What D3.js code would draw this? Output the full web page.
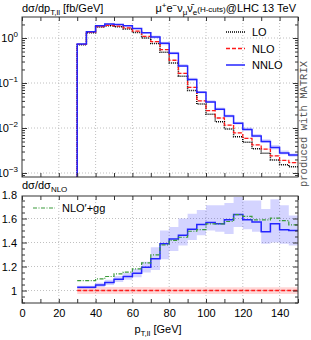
<!DOCTYPE html>
<html>
<head>
<meta charset="utf-8">
<script src="https://d3js.org/d3.v7.min.js"></script>
<style>
  body { margin: 0; background: #fff; }
  text { font-family: "Liberation Sans", Arial, sans-serif; fill: #000; }
</style>
</head>
<body>
<div id="chart"></div>
<script>
// bin lower edges (GeV), width 5
var binLow = [30,35,40,45,50,55,60,65,70,75,80,85,90,95,100,105,110,115,120,125,130,135,140,145];
var binWidth = 5;

// dsigma/dpT [fb/GeV]
var lo   = [0.71,1.31,1.75,1.87,1.77,1.59,1.32,1.0,0.75,0.48,0.28,0.142,0.068,0.034,0.0203,0.0138,0.0095,0.0064,0.0048,0.00345,0.00275,0.00195,0.00152,0.00137];
var nlo  = [0.72,1.34,1.80,1.92,1.83,1.68,1.42,1.09,0.83,0.55,0.32,0.164,0.080,0.040,0.0243,0.0167,0.0116,0.0078,0.0059,0.0042,0.0034,0.0024,0.0019,0.0017];
var nnlo = [0.74,1.38,1.88,2.05,2.0,1.88,1.62,1.30,1.05,0.76,0.46,0.24,0.12,0.062,0.038,0.026,0.0184,0.0127,0.0093,0.0066,0.0050,0.0037,0.0028,0.0025];

// ratios to NLO
var ratioNNLO = [1.028,1.028,1.047,1.067,1.094,1.117,1.144,1.194,1.264,1.389,1.43,1.46,1.51,1.55,1.567,1.556,1.59,1.633,1.59,1.57,1.49,1.556,1.506,1.50];
var ratioGG   = [1.083,1.083,1.097,1.117,1.139,1.153,1.18,1.23,1.297,1.38,1.417,1.444,1.494,1.508,1.556,1.556,1.575,1.633,1.617,1.589,1.589,1.603,1.583,1.547];
var nnloBandLo = [1.015,1.015,1.03,1.045,1.07,1.09,1.11,1.15,1.17,1.26,1.33,1.375,1.42,1.46,1.5,1.49,1.47,1.53,1.51,1.49,1.39,1.40,1.39,1.375];
var nnloBandHi = [1.04,1.04,1.065,1.09,1.12,1.145,1.18,1.24,1.36,1.5,1.53,1.6,1.64,1.67,1.71,1.71,1.73,1.78,1.75,1.75,1.68,1.76,1.71,1.625];
var nloBandLo = [0.97,0.97,0.97,0.97,0.97,0.97,0.97,0.97,0.972,0.972,0.972,0.972,0.972,0.972,0.972,0.972,0.972,0.972,0.972,0.972,0.972,0.972,0.972,0.972];
var nloBandHi = [1.03,1.03,1.03,1.03,1.03,1.03,1.03,1.03,1.028,1.028,1.028,1.028,1.028,1.028,1.028,1.028,1.028,1.028,1.028,1.028,1.028,1.028,1.028,1.028];

var xTickLabels = [0,20,40,60,80,100,120,140];
var ratioTickLabels = [1,1.2,1.4,1.6,1.8];
var decades = [0,-1,-2,-3];

var width = 311, height = 340;
var L = 22, R = 298;
var topT = 17, topB = 177, botT = 196, botB = 303;

var svg = d3.select("#chart").append("svg")
    .attr("width", width)
    .attr("height", height);

var x = d3.scaleLinear().domain([0,150]).range([L,R]);
var yTop = d3.scaleLog().domain([Math.pow(10,-3.0889), Math.pow(10,0.4667)]).range([topB,topT]);
var yBot = d3.scaleLinear().domain([0.896,1.7875]).range([botB,botT]);

var blue = "#2424ff", red = "#ff1a1a", green = "#3a9a3a";

// clip paths
var defs = svg.append("defs");
defs.append("clipPath").attr("id","clipTop").append("rect")
    .attr("x",L).attr("y",topT).attr("width",R-L).attr("height",topB-topT);
defs.append("clipPath").attr("id","clipBot").append("rect")
    .attr("x",L).attr("y",botT).attr("width",R-L).attr("height",botB-botT);

// grid
function grid(g, y0, y1, yVals, yScale) {
  xTickLabels.slice(1).forEach(function(v){
    g.append("line").attr("x1",x(v)).attr("x2",x(v)).attr("y1",y0).attr("y2",y1)
      .attr("stroke","#b0b0b0").attr("stroke-width",0.8).attr("stroke-dasharray","1,2");
  });
  yVals.forEach(function(v){
    g.append("line").attr("x1",L).attr("x2",R).attr("y1",yScale(v)).attr("y2",yScale(v))
      .attr("stroke","#b0b0b0").attr("stroke-width",0.8).attr("stroke-dasharray","1,2");
  });
}
grid(svg.append("g"), topT, topB, decades.map(function(d){return Math.pow(10,d);}), yTop);
grid(svg.append("g"), botT, botB, [1,1.2,1.4,1.6], yBot);

// step helpers
function stepPoints(vals, startFloor) {
  var pts = [];
  if (startFloor !== undefined) pts.push([binLow[0], startFloor]);
  vals.forEach(function(v,i){ pts.push([binLow[i], v]); });
  pts.push([binLow[binLow.length-1]+binWidth, vals[vals.length-1]]);
  return pts;
}
function bandPoints(lowVals, highVals) {
  var pts = lowVals.map(function(v,i){ return [binLow[i], v, highVals[i]]; });
  pts.push([binLow[binLow.length-1]+binWidth, lowVals[lowVals.length-1], highVals[highVals.length-1]]);
  return pts;
}

// ---------- top panel ----------
var gTop = svg.append("g").attr("clip-path","url(#clipTop)");
var lineTop = d3.line().curve(d3.curveStepAfter)
    .x(function(d){return x(d[0]);}).y(function(d){return yTop(d[1]);});
var areaTop = d3.area().curve(d3.curveStepAfter)
    .x(function(d){return x(d[0]);})
    .y0(function(d){return yTop(d[1]);}).y1(function(d){return yTop(d[2]);});

var nnloTopLo = nnlo.map(function(v,i){return v*nnloBandLo[i]/ratioNNLO[i];});
var nnloTopHi = nnlo.map(function(v,i){return v*nnloBandHi[i]/ratioNNLO[i];});
var nloTopLo = nlo.map(function(v,i){return v*nloBandLo[i];});
var nloTopHi = nlo.map(function(v,i){return v*nloBandHi[i];});

gTop.append("path").datum(bandPoints(nnloTopLo,nnloTopHi)).attr("d",areaTop)
    .attr("fill","rgba(40,40,255,0.2)");
gTop.append("path").datum(bandPoints(nloTopLo,nloTopHi)).attr("d",areaTop)
    .attr("fill","rgba(255,30,30,0.18)");
var floor = yTop.domain()[0];
gTop.append("path").datum(stepPoints(lo,floor)).attr("d",lineTop)
    .attr("fill","none").attr("stroke","#000").attr("stroke-width",1.5).attr("stroke-dasharray","1,1");
gTop.append("path").datum(stepPoints(nlo,floor)).attr("d",lineTop)
    .attr("fill","none").attr("stroke",red).attr("stroke-width",1.3).attr("stroke-dasharray","4,2");
gTop.append("path").datum(stepPoints(nnlo,floor)).attr("d",lineTop)
    .attr("fill","none").attr("stroke",blue).attr("stroke-width",1.5);

// ---------- bottom panel ----------
var gBot = svg.append("g").attr("clip-path","url(#clipBot)");
var lineBot = d3.line().curve(d3.curveStepAfter)
    .x(function(d){return x(d[0]);}).y(function(d){return yBot(d[1]);});
var areaBot = d3.area().curve(d3.curveStepAfter)
    .x(function(d){return x(d[0]);})
    .y0(function(d){return yBot(d[1]);}).y1(function(d){return yBot(d[2]);});

gBot.append("path").datum(bandPoints(nloBandLo,nloBandHi)).attr("d",areaBot)
    .attr("fill","rgba(255,30,30,0.18)");
gBot.append("path").datum(bandPoints(nnloBandLo,nnloBandHi)).attr("d",areaBot)
    .attr("fill","rgba(40,40,255,0.2)");
gBot.append("path").datum(stepPoints(nlo.map(function(){return 1;}))).attr("d",lineBot)
    .attr("fill","none").attr("stroke",red).attr("stroke-width",1.3).attr("stroke-dasharray","4,2");
gBot.append("path").datum(stepPoints(ratioNNLO)).attr("d",lineBot)
    .attr("fill","none").attr("stroke",blue).attr("stroke-width",1.5);
gBot.append("path").datum(stepPoints(ratioGG)).attr("d",lineBot)
    .attr("fill","none").attr("stroke",green).attr("stroke-width",1.2).attr("stroke-dasharray","4,1.5,1,1.5");

// ---------- frames and ticks ----------
function frame(y0, y1) {
  svg.append("rect").attr("x",L).attr("y",y0).attr("width",R-L).attr("height",y1-y0)
    .attr("fill","none").attr("stroke","#333").attr("stroke-width",1);
}
frame(topT, topB);
frame(botT, botB);

function tickAxis(axis, tx, ty) {
  var g = svg.append("g").attr("transform","translate("+tx+","+ty+")").call(axis);
  g.select(".domain").remove();
  g.selectAll("line").attr("stroke","#333");
  return g;
}
var xMinor = d3.range(0,151,10);
[topT, botT].forEach(function(t){
  tickAxis(d3.axisTop(x).tickValues(xMinor).tickSize(-4).tickFormat(""), 0, t);
});
tickAxis(d3.axisBottom(x).tickValues(xMinor).tickSize(-4).tickFormat(""), 0, topB);
var xb = tickAxis(d3.axisBottom(x).tickValues(xMinor).tickSize(-4)
    .tickFormat(function(d){return xTickLabels.indexOf(d) >= 0 ? d : "";}).tickPadding(6), 0, botB);
xb.selectAll("text").attr("font-size",11).attr("font-family","Liberation Sans, Arial, sans-serif");

// log ticks
var logMajor = decades.map(function(d){return Math.pow(10,d);});
var logMinor = [];
[-4,-3,-2,-1,0].forEach(function(k){
  for (var m=2;m<=9;m++){ var v=m*Math.pow(10,k); if (v>yTop.domain()[0] && v<yTop.domain()[1]) logMinor.push(v); }
});
tickAxis(d3.axisLeft(yTop).tickValues(logMajor).tickSize(-5).tickFormat(""), L, 0);
tickAxis(d3.axisLeft(yTop).tickValues(logMinor).tickSize(-3).tickFormat(""), L, 0);
tickAxis(d3.axisRight(yTop).tickValues(logMajor).tickSize(-5).tickFormat(""), R, 0);
tickAxis(d3.axisRight(yTop).tickValues(logMinor).tickSize(-3).tickFormat(""), R, 0);

decades.forEach(function(d){
  var t = svg.append("text").attr("x",18).attr("y",yTop(Math.pow(10,d))+4)
    .attr("text-anchor","end").attr("font-size",11);
  t.append("tspan").text("10");
  t.append("tspan").attr("dy",-5).attr("font-size",8).text(d===0 ? "0" : "\u2212"+(-d));
});

// ratio ticks
var rMajor = [1,1.2,1.4,1.6];
var rMinor = d3.range(0.9,1.79,0.05).map(function(v){return Math.round(v*100)/100;})
    .filter(function(v){return rMajor.indexOf(v) < 0;});
tickAxis(d3.axisLeft(yBot).tickValues(rMajor).tickSize(-5).tickFormat(""), L, 0);
tickAxis(d3.axisLeft(yBot).tickValues(rMinor).tickSize(-3).tickFormat(""), L, 0);
tickAxis(d3.axisRight(yBot).tickValues(rMajor).tickSize(-5).tickFormat(""), R, 0);
tickAxis(d3.axisRight(yBot).tickValues(rMinor).tickSize(-3).tickFormat(""), R, 0);
var yl = tickAxis(d3.axisLeft(yBot).tickValues(ratioTickLabels).tickSize(0).tickPadding(5)
    .tickFormat(function(d){return d===1 ? "1" : d.toFixed(1);}), L, 0);
yl.selectAll("text").attr("font-size",11).attr("font-family","Liberation Sans, Arial, sans-serif");

// ---------- labels ----------
var yt = svg.append("text").attr("x",22).attr("y",12).attr("font-size",11);
yt.append("tspan").text("d\u03c3/dp");
yt.append("tspan").attr("dy",3).attr("font-size",8).text("T,ll");
yt.append("tspan").attr("dy",-3).text(" [fb/GeV]");

var tt = svg.append("text").attr("x",296).attr("y",12).attr("font-size",11).attr("text-anchor","end");
tt.append("tspan").text("\u03bc");
tt.append("tspan").attr("dy",-4).attr("font-size",8).text("+");
tt.append("tspan").attr("dy",4).text("e");
tt.append("tspan").attr("dy",-4).attr("font-size",8).text("\u2212");
tt.append("tspan").attr("dy",4).text("\u03bd");
tt.append("tspan").attr("dy",3).attr("font-size",8).text("\u03bc");
tt.append("tspan").attr("dy",-3).text("\u03bd\u0304");
tt.append("tspan").attr("dy",3).attr("font-size",8).text("e");
tt.append("tspan").attr("dy",-3).attr("font-size",8).text("(H-cuts)");
tt.append("tspan").text("@LHC 13 TeV");

var rt = svg.append("text").attr("x",22).attr("y",189).attr("font-size",11);
rt.append("tspan").text("d\u03c3/d\u03c3");
rt.append("tspan").attr("dy",3).attr("font-size",8).text("NLO");

var xt = svg.append("text").attr("x",158).attr("y",333).attr("font-size",11).attr("text-anchor","middle");
xt.append("tspan").text("p");
xt.append("tspan").attr("dy",3).attr("font-size",8).text("T,ll");
xt.append("tspan").attr("dy",-3).text(" [GeV]");

svg.append("text").attr("transform","translate(307,124) rotate(-90)")
  .attr("text-anchor","middle").attr("font-size",10.5)
  .style("font-family","'Liberation Mono', 'DejaVu Sans Mono', monospace").style("fill","#555")
  .text("produced with MATRIX");

// legends
var legTop = [
  {name:"LO", color:"#000", dash:"1,1", w:1.5},
  {name:"NLO", color:red, dash:"4,2", w:1.3},
  {name:"NNLO", color:blue, dash:null, w:1.5}
];
legTop.forEach(function(d,i){
  var yy = 32 + i*16.5;
  svg.append("line").attr("x1",226).attr("x2",245).attr("y1",yy).attr("y2",yy)
    .attr("stroke",d.color).attr("stroke-width",d.w).attr("stroke-dasharray",d.dash);
  svg.append("text").attr("x",252).attr("y",yy+4).attr("font-size",11).text(d.name);
});
svg.append("line").attr("x1",33).attr("x2",55).attr("y1",208).attr("y2",208)
  .attr("stroke",green).attr("stroke-width",1.2).attr("stroke-dasharray","4,1.5,1,1.5");
svg.append("text").attr("x",62).attr("y",212).attr("font-size",11).text("NLO\u2032+gg");
</script>
</body>
</html>
